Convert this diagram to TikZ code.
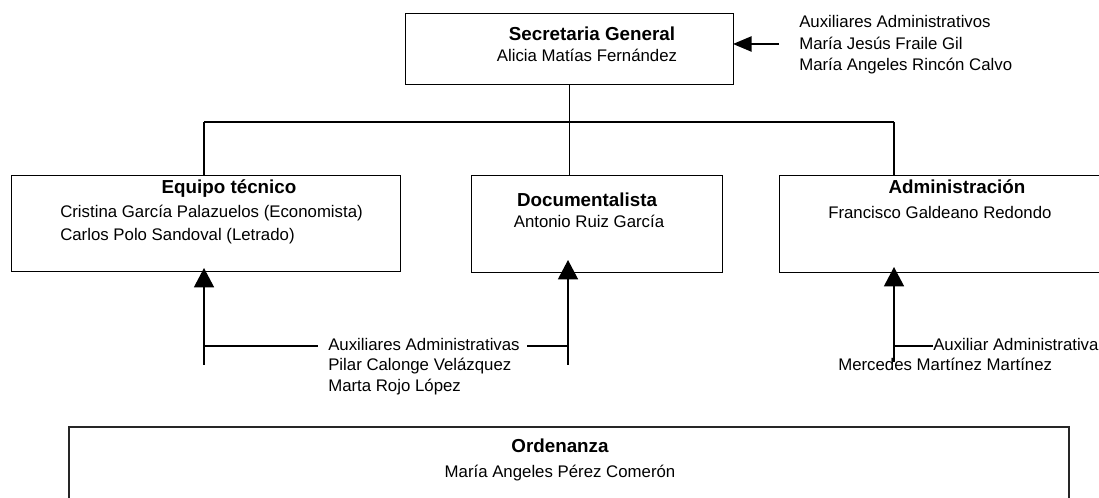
\documentclass[tikz,border=0pt]{standalone}
\usepackage{fontspec}
\setmainfont{Liberation Sans}
\usetikzlibrary{arrows.meta}
\begin{document}
\begin{tikzpicture}[x=0.75pt,y=-0.75pt,
  box/.style={draw=black, line width=0.8pt, inner sep=0pt, anchor=north west},
  conn/.style={draw=black, line width=1.1pt},
  uparrow/.style={conn, -{Triangle[length=14.5pt,width=15pt]}},
  leftarrow/.style={conn, -{Triangle[length=14pt,width=11.5pt]}},
  reg/.style={font=\fontsize{12.6}{15}\selectfont, inner sep=0pt},
  ttl/.style={font=\fontsize{14.1}{17}\selectfont\bfseries, inner sep=0pt}]
\useasboundingbox (0,0) rectangle (1099,498);
\clip (0,0) rectangle (1099,498);
% boxes
\node[box, minimum width=328*0.75pt, minimum height=71*0.75pt] (sec) at (405,13) {};
\node[box, minimum width=389*0.75pt, minimum height=96*0.75pt] (eq) at (11,175) {};
\node[box, minimum width=251*0.75pt, minimum height=97*0.75pt] (doc) at (471,175) {};
\node[box, minimum width=340*0.75pt, minimum height=97*0.75pt] (adm) at (779,175) {};
\node[box, line width=1.3pt, draw=black!85, minimum width=1000*0.75pt, minimum height=100*0.75pt] (ord) at (68,426) {};
% texts
\node[ttl, anchor=base] (secT) at (592,41) {Secretaria General};
\node[reg, anchor=base] (secN) at (587,62) {Alicia Matías Fernández};
\node[reg, anchor=base west] (aux1) at (799,28) {Auxiliares Administrativos};
\node[reg, anchor=base west] (aux2) at (799,50) {María Jesús Fraile Gil};
\node[reg, anchor=base west] (aux3) at (799,71) {María Angeles Rincón Calvo};
\node[ttl, anchor=base] (eqT) at (229,194) {Equipo técnico};
\node[reg, anchor=base west] (eq1) at (60,218) {Cristina García Palazuelos (Economista)};
\node[reg, anchor=base west] (eq2) at (60,241) {Carlos Polo Sandoval (Letrado)};
\node[ttl, anchor=base] (docT) at (587,207) {Documentalista};
\node[reg, anchor=base] (docN) at (589,228) {Antonio Ruiz García};
\node[ttl, anchor=base] (admT) at (957,194) {Administración};
\node[reg, anchor=base west] (admN) at (828,219) {Francisco Galdeano Redondo};
\node[reg, anchor=base west] (ax1) at (328,351) {Auxiliares Administrativas};
\node[reg, anchor=base west] (ax2) at (328,371) {Pilar Calonge Velázquez};
\node[reg, anchor=base west] (ax3) at (328,392) {Marta Rojo López};
\node[reg, anchor=base west] (ad1) at (933,351) {Auxiliar Administrativa};
\node[reg, anchor=base west] (ad2) at (838,371) {Mercedes Martínez Martínez};
\node[ttl, anchor=base] (ordT) at (560,453) {Ordenanza};
\node[reg, anchor=base] (ordN) at (560,478) {María Angeles Pérez Comerón};
% coordinates
\coordinate (hl) at (204,122);
\coordinate (hr) at (894,122);
\coordinate (atail) at (779,44);
\coordinate (ahead) at (733,44);
\coordinate (b1) at (204,365);
\coordinate (t1) at (204,268);
\coordinate (b2) at (568,365);
\coordinate (t2) at (568,260);
\coordinate (b3) at (894,362);
\coordinate (t3) at (894,267);
\coordinate (m1) at (204,346);
\coordinate (m1e) at (318,346);
\coordinate (m2s) at (527,346);
\coordinate (m2) at (568,346);
\coordinate (m3) at (894,346);
% top connectors
\draw[conn] (sec.south) -- (sec.south |- hl);
\draw[conn] (hl) -- (hr);
\draw[conn] (hl) -- (hl |- eq.north);
\draw[conn] (sec.south |- hl) -- (sec.south |- doc.north);
\draw[conn] (hr) -- (hr |- adm.north);
\draw[leftarrow] (atail) -- (ahead);
% bottom arrows
\draw[uparrow] (b1) -- (t1);
\draw[uparrow] (b2) -- (t2);
\draw[uparrow] (b3) -- (t3);
\draw[conn] (m1) -- (m1e);
\draw[conn] (m2s) -- (m2);
\draw[conn] (m3) -- (m3 -| ad1.west);
\end{tikzpicture}
\end{document}
